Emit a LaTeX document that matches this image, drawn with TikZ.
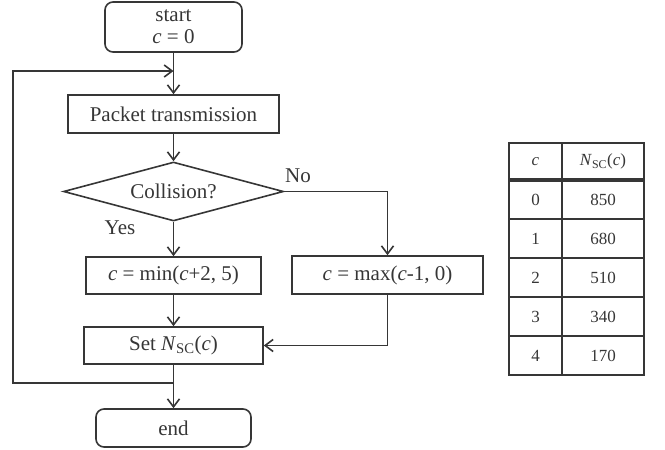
\documentclass[tikz,border=0pt]{standalone}
\usepackage{fontspec}
\setmainfont{Liberation Serif}
\usetikzlibrary{shapes.geometric,arrows.meta}
\definecolor{ink}{HTML}{363636}
\begin{document}
\begin{tikzpicture}[x=1pt,y=-1pt,
  every node/.style={text=ink,font=\fontsize{21}{24}\selectfont,inner sep=0pt},
  box/.style={draw=ink,line width=1.6pt,rectangle,align=center},
  term/.style={box,rounded corners=8pt},
  dia/.style={draw=ink,line width=1.6pt,diamond,aspect=3.7},
  arr/.style={draw=ink,line width=1.6pt,-{Straight Barb[length=8pt,width=12pt,line width=1.6pt]}},
  ln/.style={draw=ink,line width=1.6pt},
  tab/.style={font=\fontsize{17}{20}\selectfont},
]
\useasboundingbox (0,0) rectangle (665,450);
% flowchart nodes
\node[term,minimum width=137pt,minimum height=50pt] (start) at (173.5,27) {start\\[-2pt]\textit{c} = 0};
\node[box,minimum width=211pt,minimum height=38pt] (pkt) at (173.5,114) {Packet transmission};
\node[dia,minimum width=220pt,minimum height=59pt] (col) at (173.5,191.5) {Collision?};
\node[box,minimum width=175pt,minimum height=37pt] (cmin) at (173.5,275.5) {\textit{c} = min(\textit{c}+2, 5)};
\node[box,minimum width=191pt,minimum height=38pt] (cmax) at (387.5,275) {\textit{c} = max(\textit{c}-1, 0)};
\node[box,minimum width=179pt,minimum height=37pt] (set) at (173.5,345.5) {Set \textit{N}\textsubscript{SC}(\textit{c})};
\node[term,minimum width=155pt,minimum height=38pt] (end) at (173.5,428) {end};
\node (no) at (298,176) {No};
\node (yes) at (120,228) {Yes};
\coordinate (jt) at (173.5,71);
\coordinate (jb) at (173.5,383);
\coordinate (lt) at (13,71);
\coordinate (lb) at (13,383);
% connectors
\draw[arr] (start.south) -- (pkt.north);
\draw[arr] (pkt.south) -- (col.north);
\draw[arr] (col.south) -- (cmin.north);
\draw[arr] (col.east) -| (cmax.north);
\draw[arr] (cmin.south) -- (set.north);
\draw[arr] (cmax.south) |- (set.east);
\draw[arr] (set.south) -- (end.north);
\draw[arr] (jb) -- (lb) -- (lt) -- (jt);
% table
\draw[ln] (509,143) rectangle (644,375);
\draw[ln] (562,143) -- (562,375);
\draw[draw=ink,line width=3.2pt] (509,180) -- (644,180);
\foreach \yy in {219,258,297,336} { \draw[ln] (509,\yy) -- (644,\yy); }
\node[tab] (h1) at (535.5,161.5) {\textit{c}};
\node[tab] (h2) at (603,161.5) {\textit{N}\textsubscript{SC}(\textit{c})};
\node[tab] (a0) at (535.5,199.5) {0};
\node[tab] (b0) at (603,199.5) {850};
\node[tab] (a1) at (535.5,238.5) {1};
\node[tab] (b1) at (603,238.5) {680};
\node[tab] (a2) at (535.5,277.5) {2};
\node[tab] (b2) at (603,277.5) {510};
\node[tab] (a3) at (535.5,316.5) {3};
\node[tab] (b3) at (603,316.5) {340};
\node[tab] (a4) at (535.5,355.5) {4};
\node[tab] (b4) at (603,355.5) {170};
\end{tikzpicture}
\end{document}
